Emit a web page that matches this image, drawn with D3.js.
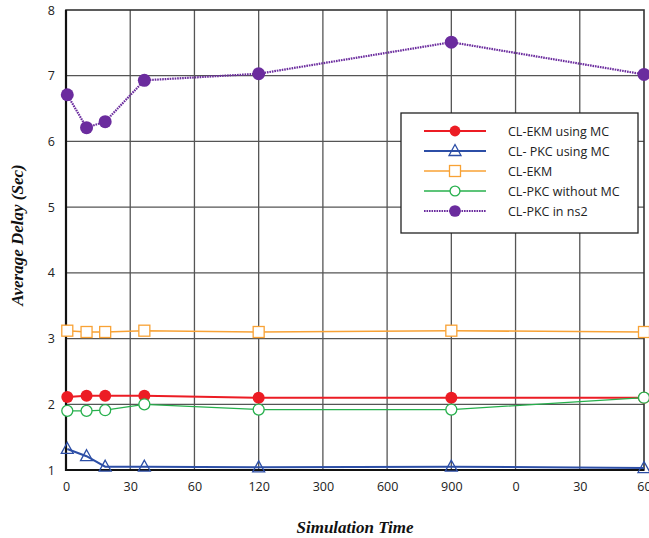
<!DOCTYPE html>
<html>
<head>
<meta charset="utf-8">
<script src="https://cdn.jsdelivr.net/npm/d3@7"></script>
<style>
  body { margin: 0; background: #fff; }
  .tick text { font-family: 'Open Sans', sans-serif; font-size: 12.5px; fill: #222; }
  .axis-title { font-family: 'Liberation Serif', serif; font-weight: bold; font-style: italic; font-size: 17px; fill: #111; }
  .legend-text { font-family: 'Open Sans', sans-serif; font-size: 12.5px; fill: #222; }
</style>
</head>
<body>
<div id="chart"></div>
<script>
// x tick labels (categorical axis, evenly spaced)
const xTickLabels = ['0', '30', '60', '120', '300', '600', '900', '0', '30', '60']
// where each sample sits along that axis (in tick-index units)
const xPos = [0.02, 0.32, 0.61, 1.22, 3, 6, 9]

const ekmMC   = [2.11, 2.13, 2.13, 2.13, 2.1, 2.1, 2.1]
const pkcMC   = [1.32, 1.21, 1.05, 1.05, 1.04, 1.05, 1.03]
const ekm     = [3.12, 3.1, 3.1, 3.12, 3.1, 3.12, 3.1]
const pkcNoMC = [1.9, 1.9, 1.91, 2.0, 1.92, 1.92, 2.1]
const pkcNs2  = [6.71, 6.21, 6.3, 6.93, 7.03, 7.51, 7.02]

const yTicks = [1, 2, 3, 4, 5, 6, 7, 8]

const series = [
    { name: 'CL-EKM using MC',    values: ekmMC,   color: '#ec1c24', marker: 'dot',    width: 2 },
    { name: 'CL- PKC using MC',   values: pkcMC,   color: '#2c4ea6', marker: 'tri',    width: 2 },
    { name: 'CL-EKM',             values: ekm,     color: '#f8a235', marker: 'square', width: 1.6 },
    { name: 'CL-PKC without MC',  values: pkcNoMC, color: '#27b04d', marker: 'ring',   width: 1.3 },
    { name: 'CL-PKC in ns2',      values: pkcNs2,  color: '#6b2c9e', marker: 'dot',    width: 2.2, dashed: true }
]

const layout = { left: 66, right: 4, top: 10, bottom: 68 }
const W = 649, H = 538
const width = W - layout.left - layout.right - 1
const height = H - layout.top - layout.bottom

const xScale = d3.scaleLinear().domain([0, 9]).range([0, width])
const yScale = d3.scaleLinear().domain([1, 8]).range([height, 0])

const svg = d3.select('#chart').append('svg')
    .attr('width', W)
    .attr('height', H)

const g = svg.append('g')
    .attr('transform', 'translate(' + layout.left + ',' + layout.top + ')')

// grid
const gridG = g.append('g')
gridG.selectAll('.vline')
    .data(d3.range(1, 9))
    .enter()
    .append('path')
    .attr('d', i => `M ${xScale(i)} 0 V ${height}`)
    .attr('stroke', '#555')
    .attr('stroke-width', 1.3)
gridG.selectAll('.hline')
    .data(yTicks.filter(t => t !== 1 && t !== 8))
    .enter()
    .append('path')
    .attr('d', t => `M 0 ${yScale(t)} H ${width}`)
    .attr('stroke', '#555')
    .attr('stroke-width', 1.3)

g.append('rect')
    .attr('width', width)
    .attr('height', height)
    .attr('fill', 'none')
    .attr('stroke', '#333')
    .attr('stroke-width', 1.6)
g.append('path')
    .attr('d', `M 0 0 V ${height} H ${width}`)
    .attr('fill', 'none')
    .attr('stroke', '#111')
    .attr('stroke-width', 2.2)

// axes
const xAxis = d3.axisBottom(xScale)
    .tickValues(d3.range(0, 10))
    .tickFormat(i => xTickLabels[i])
    .tickSize(0)
    .tickPadding(12)
const xAxisEl = g.append('g')
    .attr('transform', 'translate(0,' + height + ')')
    .call(xAxis)
xAxisEl.select('.domain').remove()

const yAxis = d3.axisLeft(yScale)
    .tickValues(yTicks)
    .tickFormat(d3.format('d'))
    .tickSize(0)
    .tickPadding(11)
const yAxisEl = g.append('g').call(yAxis)
yAxisEl.select('.domain').remove()

g.append('text')
    .attr('class', 'axis-title')
    .attr('text-anchor', 'middle')
    .attr('x', width / 2)
    .attr('y', height + 63)
    .text('Simulation Time')

g.append('text')
    .attr('class', 'axis-title')
    .attr('text-anchor', 'middle')
    .attr('transform', 'rotate(-90)')
    .attr('x', -height / 2 + 5)
    .attr('y', -43)
    .text('Average Delay (Sec)')

// markers
function drawMarker(sel, s, r) {
    const k = r || 1
    if (s.marker === 'dot') {
        sel.append('circle').attr('r', (s.dashed ? 6.5 : 6) * k).attr('fill', s.color)
    } else if (s.marker === 'ring') {
        sel.append('circle').attr('r', 5.5 * k).attr('fill', '#fff').attr('stroke', s.color).attr('stroke-width', 1.3)
    } else if (s.marker === 'square') {
        sel.append('rect').attr('x', -5.5).attr('y', -5.5).attr('width', 11).attr('height', 11)
            .attr('fill', '#fff').attr('stroke', s.color).attr('stroke-width', 1.3)
    } else if (s.marker === 'tri') {
        sel.append('path').attr('d', 'M 0 -6.5 L 6 4.5 L -6 4.5 Z')
            .attr('fill', 'none').attr('stroke', s.color).attr('stroke-width', 1.3)
    }
}

const line = d3.line()
    .x((d, i) => xScale(xPos[i]))
    .y(d => yScale(d))

const seriesG = g.append('g')
series.forEach(s => {
    seriesG.append('path')
        .datum(s.values)
        .attr('d', line)
        .attr('fill', 'none')
        .attr('stroke', s.color)
        .attr('stroke-width', s.width)
        .attr('stroke-dasharray', s.dashed ? '1.6,0.9' : null)
})
series.forEach(s => {
    s.values.forEach((v, i) => {
        const m = seriesG.append('g')
            .attr('transform', `translate(${xScale(xPos[i])},${yScale(v)})`)
        drawMarker(m, s)
    })
})

// legend
const legend = svg.append('g').attr('transform', 'translate(401,113)')
legend.append('rect')
    .attr('width', 237)
    .attr('height', 120)
    .attr('fill', '#fff')
    .attr('stroke', '#222')
    .attr('stroke-width', 1.3)
series.forEach((s, i) => {
    const row = legend.append('g').attr('transform', `translate(0,${18 + i * 20})`)
    row.append('path')
        .attr('d', 'M 23 0 H 85')
        .attr('stroke', s.color)
        .attr('stroke-width', s.width)
        .attr('stroke-dasharray', s.dashed ? '1.6,0.9' : null)
    const m = row.append('g').attr('transform', 'translate(54,0)')
    drawMarker(m, s, 0.9)
    row.append('text')
        .attr('class', 'legend-text')
        .attr('x', 107)
        .attr('y', 4.5)
        .text(s.name)
})
</script>
</body>
</html>
